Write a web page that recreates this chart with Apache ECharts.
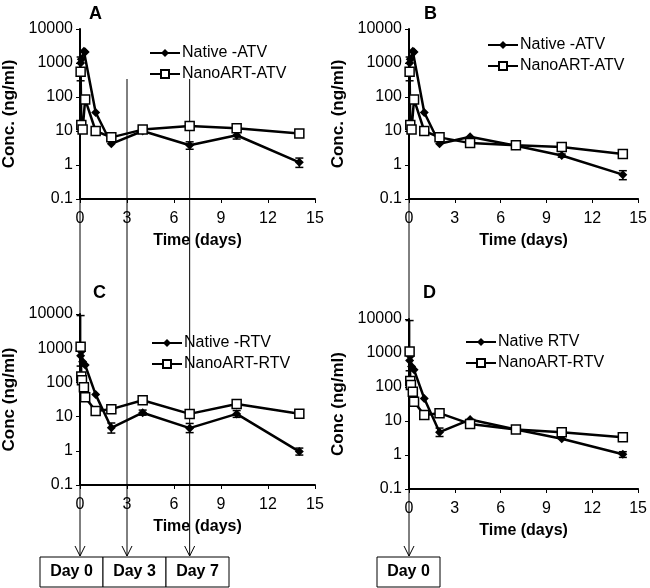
<!DOCTYPE html>
<html>
<head>
<meta charset="utf-8">
<title>ATV / RTV conc</title>
<script src="https://cdn.jsdelivr.net/npm/echarts@6/dist/echarts.min.js"></script>
</head>
<body style="margin:0">
<div id="main" style="width:650px;height:588px"></div>
<script>
// sample times (days) and concentrations (ng/ml)
var tNative = [0.04, 0.083, 0.25, 0.33, 1, 2, 4, 7, 10, 14];
var tNano = [0.04, 0.083, 0.167, 0.33, 1, 2, 4, 7, 10, 14];
var tNanoR = [0.04, 0.083, 0.125, 0.25, 0.33, 1, 2, 4, 7, 10, 14];
var tNativeR = [0.04, 0.083, 0.167, 0.33, 1, 2, 4, 7, 10, 14];

var nativeA = [1000, 1300, 2200, 2100, 35, 4.2, 10, 3.8, 7.5, 1.2];
var nanoA = [550, 15, 11, 85, 10, 6.5, 11, 14, 12, 8.5];
var nativeB = [1000, 1300, 2200, 2100, 35, 4.2, 6.8, 3.7, 1.9, 0.52];
var nanoB = [550, 15, 11, 85, 10, 6.5, 4.4, 3.8, 3.4, 2.1];
var nativeC = [600, 800, 400, 320, 44, 4.7, 13, 4.6, 12, 0.95];
var nanoC = [1100, 150, 115, 72, 37, 14.6, 16.5, 30, 12, 23.5, 12.2];
var nativeD = [600, 800, 400, 320, 46, 4.7, 11, 5.6, 3, 1.05];
var nanoD = [1100, 150, 115, 72, 37, 15, 17, 8.2, 5.6, 4.65, 3.3];

// error bars [time, low, high]
var errA = [[0.04, 300, 1500], [7, 2.9, 4.8], [7, 11, 17.5], [10, 5.8, 9.5], [14, 0.85, 1.6]];
var errB = [[0.04, 300, 1500], [10, 1.7, 2.1], [14, 0.37, 0.68]];
var errC = [[0.04, 300, 9000], [2, 3.3, 6.5], [4, 11, 15.5], [7, 3.4, 6.3], [10, 9.5, 15], [14, 0.75, 1.2]];
var errD = [[0.04, 300, 9000], [2, 3.5, 6.2], [14, 0.85, 1.25]];

var dayMarks = [0, 3, 7];
var dayMarksD = [0];

var font = 'Liberation Sans, Arial, sans-serif';

function pairs(t, v) {
  return t.map(function (x, i) { return [x, v[i]]; });
}

var grids = [
  { left: 80, right: 335, top: 29, bottom: 389 },
  { left: 409, right: 11, top: 29, bottom: 389 },
  { left: 80, right: 335, top: 314, bottom: 103 },
  { left: 409, right: 11, top: 319, bottom: 99 }
];
var yNames = ['Conc. (ng/ml)', 'Conc. (ng/ml)', 'Conc (ng/ml)', 'Conc (ng/ml)'];

var xAxes = grids.map(function (g, i) {
  return {
    gridIndex: i, type: 'value', min: 0, max: 15, interval: 3,
    name: 'Time (days)', nameLocation: 'middle', nameGap: 34,
    nameTextStyle: { fontFamily: font, fontSize: 16, fontWeight: 'bold', color: '#000' },
    axisLine: { lineStyle: { color: '#000', width: 2 } },
    axisTick: { show: true, length: 4, lineStyle: { color: '#000' } },
    axisLabel: { fontFamily: font, fontSize: 16, color: '#000', margin: 12 },
    splitLine: { show: false }
  };
});
var yAxes = grids.map(function (g, i) {
  return {
    gridIndex: i, type: 'log', logBase: 10, min: 0.1, max: 10000,
    name: yNames[i], nameLocation: 'middle', nameGap: 62,
    nameTextStyle: { fontFamily: font, fontSize: 17, fontWeight: 'bold', color: '#000' },
    axisLine: { show: true, lineStyle: { color: '#000', width: 2 } },
    axisTick: { show: true, length: 4, lineStyle: { color: '#000' } },
    axisLabel: { fontFamily: font, fontSize: 16, color: '#000', margin: 7,
      formatter: function (v) { return String(+v.toPrecision(3)); } },
    splitLine: { show: false }
  };
});

function nativeSeries(name, idx, t, v) {
  return {
    name: name, type: 'line', xAxisIndex: idx, yAxisIndex: idx,
    data: pairs(t, v), symbol: 'diamond', symbolSize: 9,
    itemStyle: { color: '#000' }, lineStyle: { color: '#000', width: 2.5 },
    animation: false, z: 3
  };
}
function nanoSeries(name, idx, t, v) {
  return {
    name: name, type: 'line', xAxisIndex: idx, yAxisIndex: idx,
    data: pairs(t, v), symbol: 'rect', symbolSize: 9,
    itemStyle: { color: '#fff', borderColor: '#000', borderWidth: 1.5 },
    lineStyle: { color: '#000', width: 2.5 },
    animation: false, z: 4
  };
}
function errSeries(idx, err) {
  return {
    type: 'custom', xAxisIndex: idx, yAxisIndex: idx, data: err, z: 2, animation: false,
    renderItem: function (params, api) {
      var lo = api.coord([api.value(0), api.value(1)]);
      var hi = api.coord([api.value(0), api.value(2)]);
      var s = { stroke: '#000', lineWidth: 1.5 };
      return { type: 'group', children: [
        { type: 'line', shape: { x1: lo[0], y1: lo[1], x2: hi[0], y2: hi[1] }, style: s },
        { type: 'line', shape: { x1: lo[0] - 4, y1: lo[1], x2: lo[0] + 4, y2: lo[1] }, style: s },
        { type: 'line', shape: { x1: hi[0] - 4, y1: hi[1], x2: hi[0] + 4, y2: hi[1] }, style: s }
      ] };
    }
  };
}

function legend(names, left, top) {
  return {
    data: names, left: left, top: top, orient: 'vertical', itemGap: 5,
    itemWidth: 30, itemHeight: 10, selectedMode: false,
    textStyle: { fontFamily: font, fontSize: 16, color: '#000', padding: [0, 0, 0, -3] }
  };
}

var chart = echarts.init(document.getElementById('main'));
chart.setOption({
  animation: false,
  grid: grids,
  xAxis: xAxes,
  yAxis: yAxes,
  legend: [
    legend(['Native -ATV', 'NanoART-ATV'], 144, 40),
    legend(['Native -ATV', 'NanoART-ATV'], 482, 32),
    legend(['Native -RTV', 'NanoART-RTV'], 146, 330),
    legend(['Native RTV', 'NanoART-RTV'], 460, 329)
  ],
  title: [
    { text: 'A', left: 84, top: 0 },
    { text: 'B', left: 419, top: 0 },
    { text: 'C', left: 88, top: 279 },
    { text: 'D', left: 418, top: 279 }
  ].map(function (t) {
    t.textStyle = { fontFamily: font, fontSize: 18, fontWeight: 'bold', color: '#000' };
    return t;
  }),
  series: [
    errSeries(0, errA), nativeSeries('Native -ATV', 0, tNative, nativeA), nanoSeries('NanoART-ATV', 0, tNano, nanoA),
    errSeries(1, errB), nativeSeries('Native -ATV', 1, tNative, nativeB), nanoSeries('NanoART-ATV', 1, tNano, nanoB),
    errSeries(2, errC), nativeSeries('Native -RTV', 2, tNativeR, nativeC), nanoSeries('NanoART-RTV', 2, tNanoR, nanoC),
    errSeries(3, errD), nativeSeries('Native RTV', 3, tNativeR, nativeD), nanoSeries('NanoART-RTV', 3, tNanoR, nanoD)
  ]
});

// day marker lines, arrows and boxes
var arrowY = 556, boxTop = 557, boxH = 30, boxW = 63;
var graphics = [];
function addMarks(days, xIdx, boxLeft) {
  days.forEach(function (d, i) {
    var x = chart.convertToPixel({ xAxisIndex: xIdx }, d);
    var y0 = d === 0 ? 199 : 79;
    var ls = { stroke: '#000', lineWidth: 1, fill: null };
    graphics.push({ type: 'line', shape: { x1: x, y1: y0, x2: x, y2: arrowY }, style: ls, z: 1 });
    graphics.push({ type: 'polyline', shape: { points: [[x - 5, arrowY - 10], [x, arrowY], [x + 5, arrowY - 10]] }, style: ls });
    var bx = boxLeft + i * boxW;
    graphics.push({ type: 'rect', shape: { x: bx, y: boxTop, width: boxW, height: boxH },
      style: { fill: '#fff', stroke: '#000', lineWidth: 1 } });
    graphics.push({ type: 'text', x: bx + boxW / 2, y: boxTop + boxH / 2,
      style: { text: 'Day ' + d, fontFamily: font, fontSize: 16, fontWeight: 'bold', fill: '#000',
        align: 'center', verticalAlign: 'middle' } });
  });
}
addMarks(dayMarks, 2, 40);
addMarks(dayMarksD, 3, 377);
chart.setOption({ graphic: graphics });
</script>
</body>
</html>
